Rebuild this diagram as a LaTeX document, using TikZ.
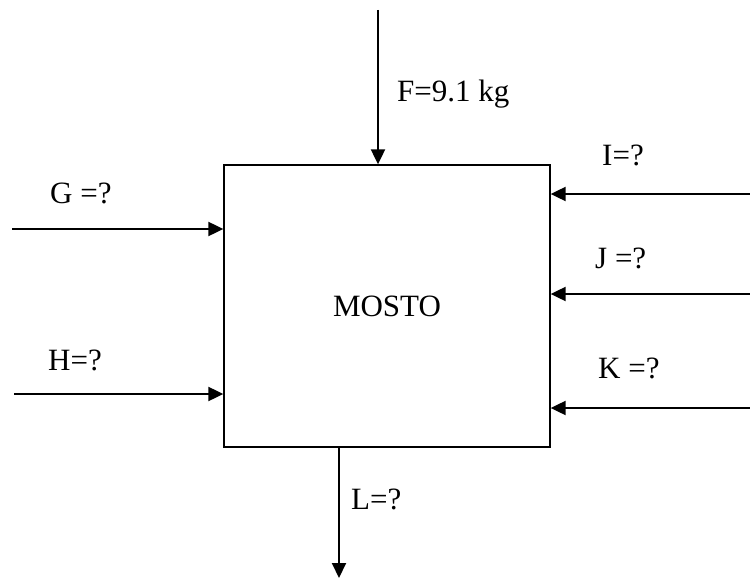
\documentclass[tikz,border=0pt]{standalone}
\usepackage{fontspec}
\setmainfont{Liberation Serif}
\usetikzlibrary{arrows.meta,positioning}

\begin{document}
\begin{tikzpicture}[
  x=1pt, y=-1pt,
  box/.style={draw, line width=1.3pt, minimum width=326pt, minimum height=282pt, inner sep=0pt, font=\fontsize{31}{37}\selectfont},
  lbl/.style={anchor=base west, inner sep=0pt, font=\fontsize{31}{37}\selectfont},
  arrow/.style={-{Triangle[length=15pt,width=14pt]}, line width=2pt}
]
\useasboundingbox (0,0) rectangle (750,578);
\node[box] (mosto) at (387,306) {MOSTO};

% free ends of the streams
\coordinate (F) at (378,10);
\coordinate (G) at (12,229);
\coordinate (H) at (14,394);
\coordinate (I) at (750,194);
\coordinate (J) at (750,294);
\coordinate (K) at (750,408);
\coordinate (L) at (339,578);

\draw[arrow] (F) -- (F |- mosto.north);
\draw[arrow] (G) -- (G -| mosto.west);
\draw[arrow] (H) -- (H -| mosto.west);
\draw[arrow] (I) -- (I -| mosto.east);
\draw[arrow] (J) -- (J -| mosto.east);
\draw[arrow] (K) -- (K -| mosto.east);
\draw[arrow] (L |- mosto.south) -- (L);

\node[lbl] (fl) at (397,101) {F=9.1 kg};
\node[lbl] (gl) at (50,203) {G =?};
\node[lbl] (hl) at (48,370) {H=?};
\node[lbl] (il) at (602,165) {I=?};
\node[lbl] (jl) at (595,268) {J =?};
\node[lbl] (kl) at (598,378) {K =?};
\node[lbl] (ll) at (351,509) {L=?};
\end{tikzpicture}
\end{document}
